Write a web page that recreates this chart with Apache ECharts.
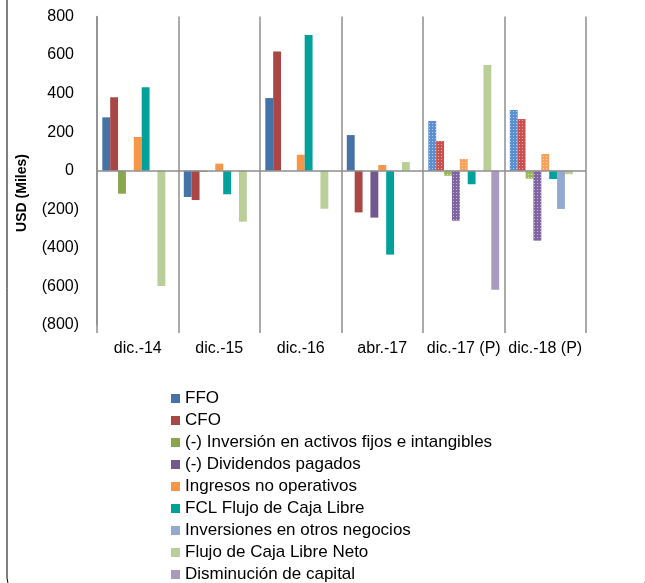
<!DOCTYPE html>
<html>
<head>
<meta charset="utf-8">
<script src="https://cdn.jsdelivr.net/npm/echarts@6/dist/echarts.min.js"></script>
<style>html,body{margin:0;padding:0;background:#fff;}#c{width:645px;height:583px;}</style>
</head>
<body>
<div id="c"></div>
<script>
var categories = ['dic.-14', 'dic.-15', 'dic.-16', 'abr.-17', 'dic.-17 (P)', 'dic.-18 (P)'];
var ffo        = [277, -136, 377, 185, 258, 315];
var cfo        = [381, -152, 619, -216, 154, 268];
var inversion  = [-119, -6, 0, 0, -26, -41];
var dividendos = [0, 0, 0, -243, -259, -363];
var ingresos   = [175, 37, 83, 30, 61, 87];
var fcl        = [433, -122, 704, -435, -70, -43];
var invOtros   = [0, 0, 0, 0, 0, -198];
var neto       = [-598, -264, -197, 45, 548, -18];
var dism       = [0, 0, 0, 0, -617, 0];
var yTicks     = [-800, -600, -400, -200, 0, 200, 400, 600, 800];

var seriesDefs = [
  {name: 'FFO', data: ffo, color: '#4572A7', pat: '#5A8FD2'},
  {name: 'CFO', data: cfo, color: '#AA4643', pat: '#C9504C'},
  {name: '(-) Inversión en activos fijos e intangibles', data: inversion, color: '#89A54E', pat: '#9BBB59'},
  {name: '(-) Dividendos pagados', data: dividendos, color: '#71588F', pat: '#8064A2'},
  {name: 'Ingresos no operativos', data: ingresos, color: '#F79646', pat: '#F9A05A'},
  {name: 'FCL Flujo de Caja Libre', data: fcl, color: '#00A09B', pat: null},
  {name: 'Inversiones en otros negocios', data: invOtros, color: '#93A9CF', pat: null},
  {name: 'Flujo de Caja Libre Neto', data: neto, color: '#BACF98', pat: null},
  {name: 'Disminución de capital', data: dism, color: '#A99BBD', pat: null}
];

var decal = {symbol: 'rect', symbolSize: 1, color: 'rgba(255,255,255,0.55)', dashArrayX: [1, 2], dashArrayY: [1, 2], rotation: 0};

var series = seriesDefs.map(function (s, si) {
  var o = {
    name: s.name,
    type: 'bar',
    barGap: '0%',
    barCategoryGap: '13%',
    itemStyle: {color: s.color},
    data: s.data.map(function (v, i) {
      var d = {value: v};
      if (s.pat && i >= 4) d.itemStyle = {color: s.pat, decal: decal};
      return d;
    })
  };
  if (si === 0) {
    o.markLine = {silent: true, symbol: 'none', label: {show: false},
      lineStyle: {color: '#8e8e8e', width: 1.5, type: 'solid'},
      data: [{yAxis: 0}]};
  }
  return o;
});

var chart = echarts.init(document.getElementById('c'));
chart.setOption({
  animation: false,
  textStyle: {fontFamily: 'Liberation Sans, Arial, sans-serif'},
  grid: {left: 97, right: 59, top: 16.5, bottom: 258},
  legend: {
    orient: 'vertical', left: 171, top: 390, height: 200, padding: 0,
    itemWidth: 9, itemHeight: 9, itemGap: 5, itemTextGap: 3,
    icon: 'rect',
    textStyle: {fontSize: 17, color: '#000', fontFamily: 'Liberation Sans, Arial, sans-serif'},
    data: seriesDefs.map(function (s) { return s.name; })
  },
  xAxis: {
    type: 'category', data: categories,
    axisLine: {show: false, onZero: false},
    axisTick: {show: true, length: 8, lineStyle: {color: '#8e8e8e', width: 1.5}},
    axisLabel: {fontSize: 16, color: '#000', margin: 16, interval: 0},
    splitLine: {show: true, interval: 0, lineStyle: {color: '#8e8e8e', width: 1.5}}
  },
  yAxis: {
    type: 'value', min: yTicks[0], max: yTicks[yTicks.length - 1], interval: 200,
    axisLine: {show: true, lineStyle: {color: '#8e8e8e', width: 1.5}},
    axisTick: {show: false},
    splitLine: {show: false},
    axisLabel: {
      fontSize: 16, color: '#000', margin: 18,
      formatter: function (v) { return v < 0 ? '(' + (-v) + ')' : '{p|' + v + '}'; },
      rich: {p: {fontSize: 16, color: '#000', padding: [0, 5, 0, 0]}}
    }
  },
  graphic: [
    {type: 'text', rotation: Math.PI / 2, x: 22, y: 193,
      style: {text: 'USD (Miles)', fill: '#000', font: 'bold 14px Liberation Sans, Arial, sans-serif', textAlign: 'center', textVerticalAlign: 'middle'}},
    {type: 'rect', shape: {x: 7, y: -20, width: 639, height: 610, r: 12},
      style: {fill: 'none', stroke: '#000', lineWidth: 1}, silent: true}
  ],
  series: series
});
</script>
</body>
</html>
